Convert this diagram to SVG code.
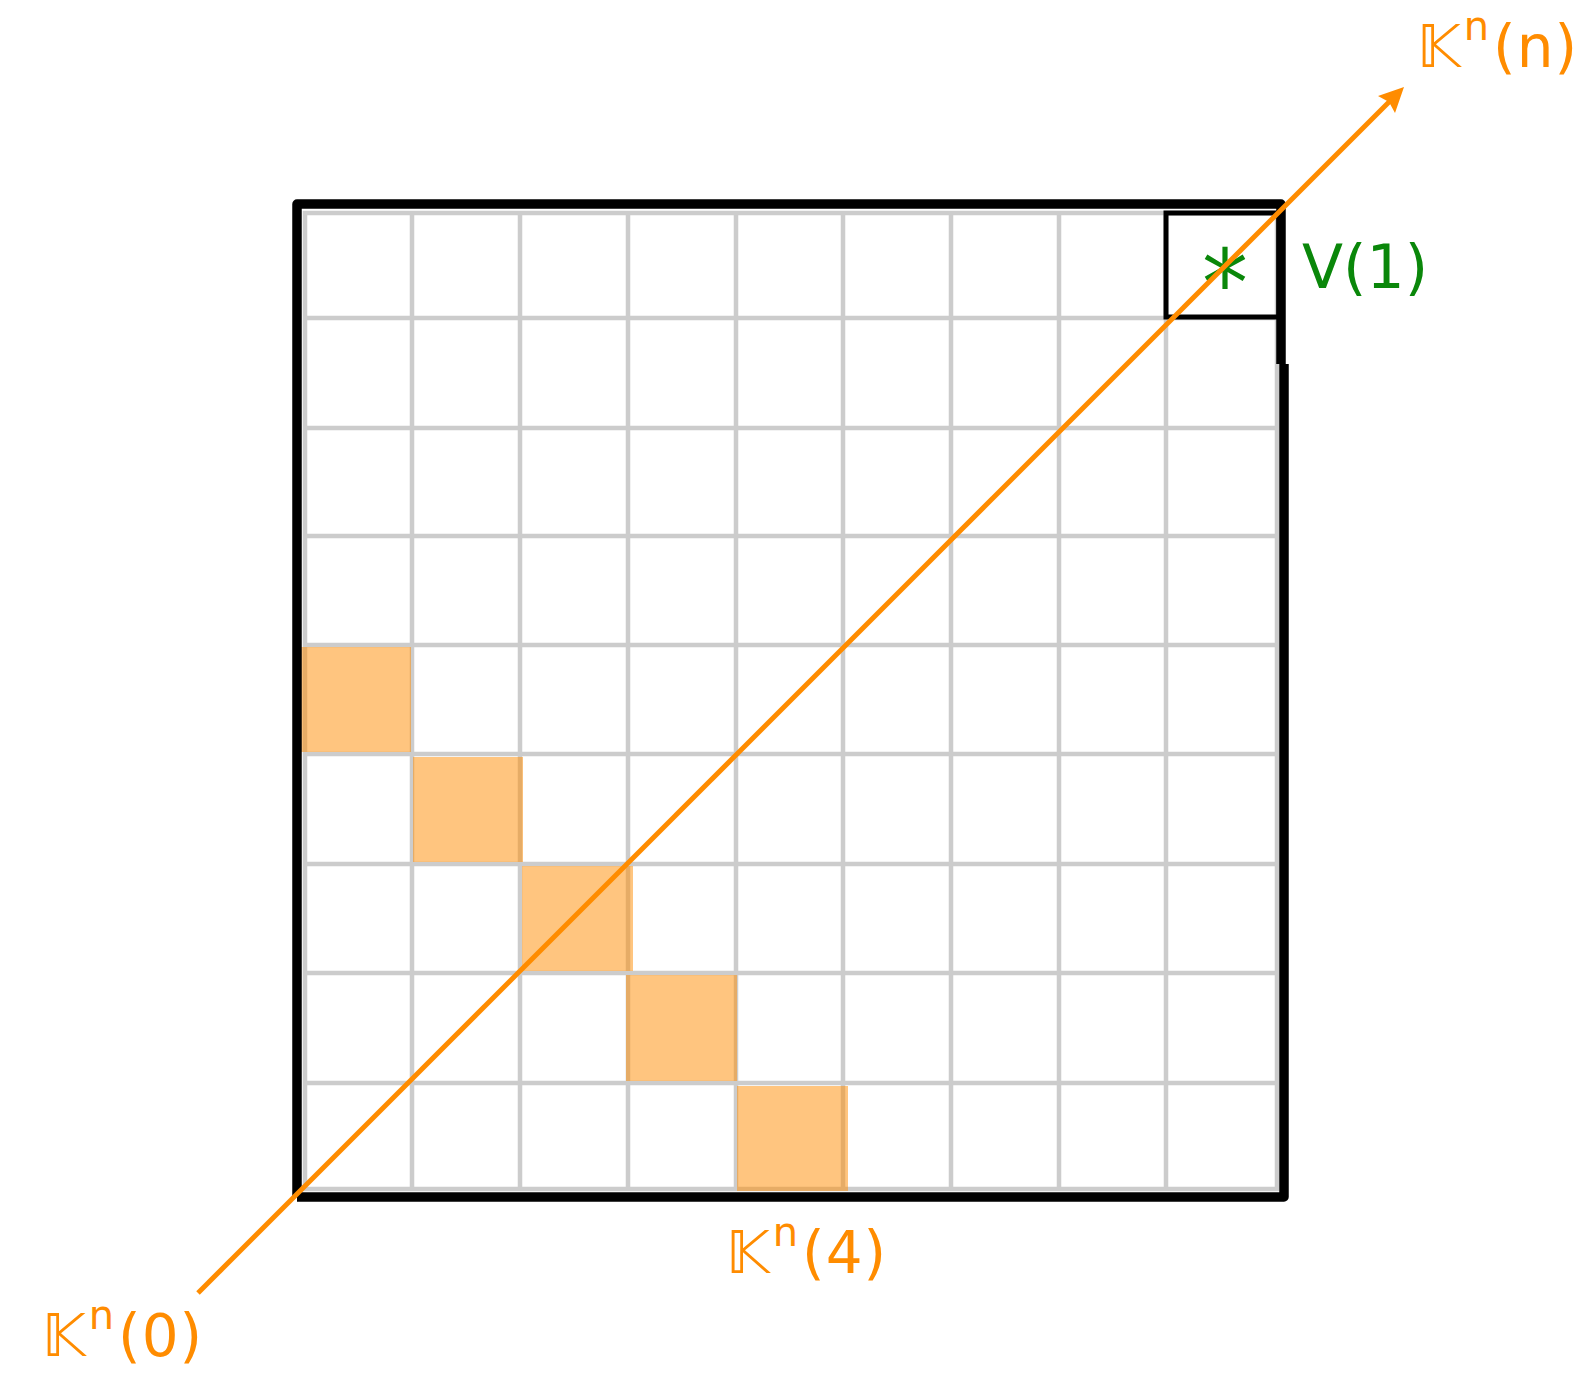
<svg xmlns="http://www.w3.org/2000/svg" width="1589" height="1384" viewBox="0 0 1589 1384">
<style>
.grid line{stroke:#cccccc;stroke-width:4.5;}
.cell{fill:#ff8c00;fill-opacity:0.5;}
.border{fill:none;stroke:#000;stroke-width:9.5;stroke-linejoin:round;}
.box{fill:none;stroke:#000;stroke-width:5;}
.lbl{font-family:"DejaVu Sans","Noto Sans",sans-serif;font-size:58px;fill:#ff8c00;}
.sup{font-size:40px;}
.green{font-family:"DejaVu Sans","Noto Sans",sans-serif;fill:#0a870a;}
.conn{stroke:#ff8c00;stroke-width:5;fill:none;}
</style>
<rect width="1589" height="1384" fill="#fff"/>
<g id="grid" class="grid">
<line x1="305" y1="211" x2="305" y2="1191"/>
<line x1="412" y1="211" x2="412" y2="1191"/>
<line x1="520" y1="211" x2="520" y2="1191"/>
<line x1="628" y1="211" x2="628" y2="1191"/>
<line x1="736" y1="211" x2="736" y2="1191"/>
<line x1="843" y1="211" x2="843" y2="1191"/>
<line x1="951" y1="211" x2="951" y2="1191"/>
<line x1="1059" y1="211" x2="1059" y2="1191"/>
<line x1="1166" y1="211" x2="1166" y2="1191"/>
<line x1="1277" y1="211" x2="1277" y2="1191"/>
<line x1="303" y1="213" x2="1279" y2="213"/>
<line x1="303" y1="318" x2="1279" y2="318"/>
<line x1="303" y1="428" x2="1279" y2="428"/>
<line x1="303" y1="536" x2="1279" y2="536"/>
<line x1="303" y1="645" x2="1279" y2="645"/>
<line x1="303" y1="754" x2="1279" y2="754"/>
<line x1="303" y1="864" x2="1279" y2="864"/>
<line x1="303" y1="973" x2="1279" y2="973"/>
<line x1="303" y1="1083" x2="1279" y2="1083"/>
<line x1="303" y1="1189" x2="1279" y2="1189"/>
</g>
<g id="cells">
<rect class="cell" x="301" y="647" width="110" height="105"/>
<rect class="cell" x="413" y="757" width="110" height="105"/>
<rect class="cell" x="522" y="866" width="111" height="105"/>
<rect class="cell" x="626" y="975" width="111" height="106"/>
<rect class="cell" x="737" y="1086" width="111" height="105"/>
</g>
<g id="matrix">
<path class="border" d="M297,1197 L297,204 L1281,204 L1281,364 M1284,364 L1284,1197 L297,1197"/>
</g>
<g id="v1">
<rect class="box" x="1166" y="213" width="113" height="104"/>
<text class="green" x="1225" y="316" font-size="92" text-anchor="middle">*</text>
<text class="green" x="1302" y="288" font-size="60">V(1)</text>
</g>
<g id="connectors">
<line class="conn" x1="198" y1="1293" x2="1392" y2="99"/>
<polygon points="1404,87 1378,96 1389,102 1395,113" fill="#ff8c00"/>
</g>
<g id="label-kn-n"><text class="lbl" x="1417" y="67">𝕂<tspan class="sup" dx="3" dy="-27">n</tspan><tspan dx="4" dy="27" letter-spacing="1">(n)</tspan></text></g>
<g id="label-kn-0"><text class="lbl" x="42" y="1356">𝕂<tspan class="sup" dx="3" dy="-27">n</tspan><tspan dx="4" dy="27" letter-spacing="1">(0)</tspan></text></g>
<g id="label-kn-4"><text class="lbl" x="726" y="1273">𝕂<tspan class="sup" dx="3" dy="-27">n</tspan><tspan dx="4" dy="27" letter-spacing="1">(4)</tspan></text></g>
</svg>
